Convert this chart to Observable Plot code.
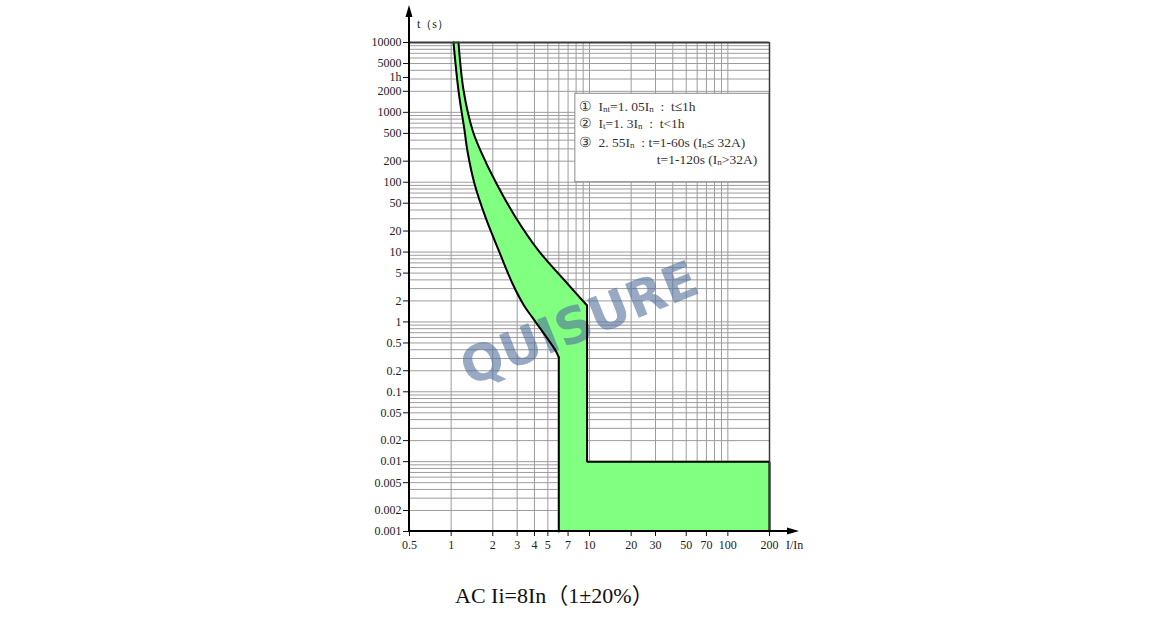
<!DOCTYPE html>
<html><head><meta charset="utf-8">
<script src="https://cdn.jsdelivr.net/npm/d3@7"></script>
<script src="https://cdn.jsdelivr.net/npm/@observablehq/plot@0.6"></script>
<style>
body{margin:0;background:#fff;width:1163px;height:637px;overflow:hidden;position:relative;}
#chart svg{display:block;}
#caption{position:absolute;left:455px;top:585px;font-family:"Liberation Serif","Noto Sans CJK SC",serif;font-size:22px;line-height:1;color:#111;white-space:nowrap;}
</style></head><body>
<div id="chart"></div>
<div id="caption">AC Ii=8In（1±20%）</div>
<script>
// ---- axis ticks ----
const xTicks = [0.5, 1, 2, 3, 4, 5, 7, 10, 20, 30, 50, 70, 100, 200];
const xTickLabels = ["0.5", "1", "2", "3", "4", "5", "7", "10", "20", "30", "50", "70", "100", "200"];
const yTicks = [10000, 5000, 3150, 2000, 1000, 500, 200, 100, 50, 20, 10, 5, 2, 1, 0.5, 0.2, 0.1, 0.05, 0.02, 0.01, 0.005, 0.002, 0.001];
const yTickLabels = ["10000", "5000", "1h", "2000", "1000", "500", "200", "100", "50", "20", "10", "5", "2", "1", "0.5", "0.2", "0.1", "0.05", "0.02", "0.01", "0.005", "0.002", "0.001"];
const xGrid = [1, 2, 3, 4, 5, 6, 7, 8, 9, 10, 20, 30, 40, 50, 60, 70, 80, 90, 100];
const yDecades = [0.001, 0.01, 0.1, 1, 10, 100, 1000];
const yMultiples = [1, 2, 3, 4, 5, 6, 7, 8, 9];
const xLabel = "I/In";
const yLabel = "t（s）";

// ---- tripping curve (I/In vs t in s) ----
const bandT     = [10000, 2055, 550, 284, 94.9, 31.6, 10.5, 3.52, 1.72];
const bandLower = [1.04, 1.13, 1.25, 1.31, 1.475, 1.77, 2.21, 2.78, 3.36];
const bandUpper = [1.13, 1.23, 1.43, 1.63, 2.13, 2.92, 4.28, 6.94, 9.6];
const tailT     = [1.72, 1.17, 0.39, 0.31];
const tailLower = [3.36, 3.85, 5.68, 6.0];
const iiLower = 6.0, iiUpper = 9.6;     // instantaneous trip band
const instT = 0.01, tMin = 0.001, xMax = 200, xMin = 0.5, tMax = 10000;

// ---- legend ----
const legendLeft = 7.9, legendTop = 1845, legendBottom = 100;
const legendLines = [
  {dx: 4, dy: 18, parts: [["①  I", 0], ["nt", 1], ["=1. 05I", 0], ["n", 1], ["  :  t≤1h", 0]]},
  {dx: 4, dy: 35, parts: [["②  I", 0], ["t", 1], ["=1. 3I", 0], ["n", 1], ["  :  t<1h", 0]]},
  {dx: 4, dy: 53.5, parts: [["③  2. 55I", 0], ["n", 1], ["  : t=1-60s (I", 0], ["n", 1], ["≤ 32A)", 0]]},
  {dx: 82, dy: 71, parts: [["t=1-120s (I", 0], ["n", 1], [">32A)", 0]]}
];
const watermark = [{x: 8.47, y: 0.92, text: "QUISURE"}];

// ---- derived tables ----
const yGrid = yDecades.flatMap(d => yMultiples.map(m => +(d * m).toPrecision(6))).concat([tMax]);
const band = bandT.map((t, i) => ({t, lo: bandLower[i], hi: bandUpper[i]}));
const tail = tailT.map((t, i) => ({t, lo: tailLower[i], hi: iiUpper}));
const rects = [
  {x1: iiLower, x2: iiUpper, y1: tMin, y2: tailT[tailT.length - 1]},
  {x1: iiUpper, x2: xMax, y1: tMin, y2: instT}
];
const lowerCurve = band.map(d => ({x: d.lo, t: d.t})).concat(tail.slice(1).map(d => ({x: d.lo, t: d.t})));
const lowerDrop = [{x: iiLower, t: tailT[tailT.length - 1]}, {x: iiLower, t: tMin}];
const upperCurve = band.map(d => ({x: d.hi, t: d.t}));
const upperStep = [{x: iiUpper, t: bandT[bandT.length - 1]}, {x: iiUpper, t: instT}, {x: xMax, t: instT}, {x: xMax, t: tMin}];
const legendBox = [{x1: legendLeft, x2: xMax, y1: legendBottom, y2: legendTop}];
const xTickData = xTicks.map((v, i) => ({v, label: xTickLabels[i]}));
const yTickData = yTicks.map((v, i) => ({v, label: yTickLabels[i]}));

const GREEN = "#80ff80";
const chart = Plot.plot({
  width: 1163, height: 575,
  marginLeft: 409, marginRight: 394, marginTop: 42, marginBottom: 44,
  style: {fontFamily: "'Liberation Serif', 'DejaVu Serif', serif", fontSize: "12px", color: "#222", background: "#fff"},
  x: {type: "log", domain: [xMin, xMax]},
  y: {type: "log", domain: [tMin, tMax]},
  marks: [
    Plot.ruleY(yGrid, {stroke: "#9c9c9c", strokeWidth: 1}),
    Plot.ruleX(xGrid, {stroke: "#9c9c9c", strokeWidth: 1}),
    Plot.areaX(band, {y: "t", x1: "lo", x2: "hi", fill: GREEN, stroke: GREEN, strokeWidth: 1, curve: "catmull-rom"}),
    Plot.areaX(tail, {y: "t", x1: "lo", x2: "hi", fill: GREEN, stroke: GREEN, strokeWidth: 1, curve: "catmull-rom"}),
    Plot.rect(rects, {x1: "x1", x2: "x2", y1: "y1", y2: "y2", fill: GREEN, stroke: GREEN, strokeWidth: 1}),
    Plot.rect(legendBox, {x1: "x1", x2: "x2", y1: "y1", y2: "y2", fill: "#fff", stroke: "#8a8a8a", strokeWidth: 1}),
    Plot.text(watermark, {x: "x", y: "y", text: "text", rotate: -22, fontSize: 50, fontWeight: "bold",
      fontFamily: "'DejaVu Sans', sans-serif", fill: "rgb(83,112,156)", fillOpacity: 0.6, textAnchor: "middle", lineAnchor: "middle"}),
    Plot.line(lowerCurve, {x: "x", y: "t", stroke: "#000", strokeWidth: 2, curve: "catmull-rom"}),
    Plot.line(lowerDrop, {x: "x", y: "t", stroke: "#000", strokeWidth: 2}),
    Plot.line(upperCurve, {x: "x", y: "t", stroke: "#000", strokeWidth: 2, curve: "catmull-rom"}),
    Plot.line(upperStep, {x: "x", y: "t", stroke: "#000", strokeWidth: 2, strokeLinejoin: "miter"}),
    Plot.ruleY([tMax], {stroke: "#3a3a3a", strokeWidth: 2}),
    Plot.ruleX([xMax], {stroke: "#3a3a3a", strokeWidth: 1.5}),
    Plot.axisX({ticks: xTicks, tickFormat: () => "", tickSize: 5, label: null, stroke: "#111"}),
    Plot.axisY({ticks: yTicks, tickFormat: () => "", tickSize: 6, label: null, stroke: "#111"}),
    Plot.text(xTickData, {x: "v", text: "label", frameAnchor: "bottom", dy: 14, lineAnchor: "middle", fill: "#222"}),
    Plot.text(yTickData, {y: "v", text: "label", frameAnchor: "left", dx: -8, textAnchor: "end", lineAnchor: "middle", fill: "#222"})
  ]
});
document.getElementById("chart").appendChild(chart);

// ---- axis lines with arrows, axis labels, legend text ----
const xs = chart.scale("x"), ys = chart.scale("y");
const svg = d3.select(chart);
const x0 = xs.apply(xMin), y0 = ys.apply(tMin), yTop = ys.apply(tMax), xRight = xs.apply(xMax);
const g = svg.append("g").attr("text-anchor", "start");
g.append("line").attr("x1", x0).attr("x2", x0).attr("y1", y0 + 1).attr("y2", yTop - 28).attr("stroke", "#000").attr("stroke-width", 2);
g.append("path").attr("d", `M${x0},${yTop - 37}L${x0 - 3.5},${yTop - 25}L${x0 + 3.5},${yTop - 25}Z`).attr("fill", "#000");
g.append("line").attr("x1", x0 - 1).attr("x2", xRight + 20).attr("y1", y0).attr("y2", y0).attr("stroke", "#000").attr("stroke-width", 2);
g.append("path").attr("d", `M${xRight + 30},${y0}L${xRight + 18},${y0 - 3.5}L${xRight + 18},${y0 + 3.5}Z`).attr("fill", "#000");
g.append("text").attr("x", x0 + 8).attr("y", yTop - 14).attr("fill", "#222").attr("font-size", 12).text(yLabel);
g.append("text").attr("x", xRight + 17).attr("y", y0 + 18).attr("fill", "#222").attr("font-size", 12).text(xLabel);

const lx = xs.apply(legendLeft), ly = ys.apply(legendTop);
for (const line of legendLines) {
  const t = g.append("text").attr("x", lx + line.dx).attr("y", ly + line.dy).attr("fill", "#333")
    .attr("font-size", 13.5).attr("xml:space", "preserve").style("white-space", "pre");
  let prevSub = false;
  for (const [s, sub] of line.parts) {
    const ts = t.append("tspan").text(s);
    if (sub) ts.attr("font-size", 9).attr("dy", prevSub ? 0 : 1);
    else ts.attr("dy", prevSub ? -1 : 0);
    prevSub = !!sub;
  }
}
</script>
</body></html>
